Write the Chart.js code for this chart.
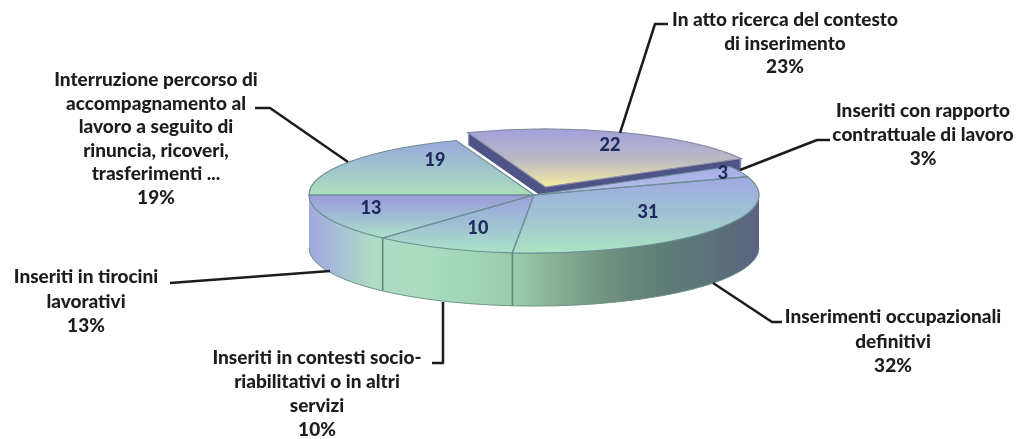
<!DOCTYPE html>
<html lang="it">
<head>
    <meta charset="UTF-8">
    <title>Esiti dei percorsi di inserimento</title>
    <script src="https://cdn.jsdelivr.net/npm/chart.js"></script>
    <style>
        html, body { margin: 0; padding: 0; background: #fff; }
        canvas { display: block; }
    </style>
</head>
<body>
    <canvas id="pieChart" width="1020" height="439"></canvas>

    <script>
        // data (clockwise from the left edge of the pie)
        const categories = [
            "Interruzione percorso di accompagnamento al lavoro a seguito di rinuncia, ricoveri, trasferimenti ...",
            "In atto ricerca del contesto di inserimento",
            "Inseriti con rapporto contrattuale di lavoro",
            "Inserimenti occupazionali definitivi",
            "Inseriti in contesti socio-riabilitativi o in altri servizi",
            "Inseriti in tirocini lavorativi"
        ];
        const sliceValues = [19, 22, 3, 31, 10, 13];
        const percentLabels = ["19%", "23%", "3%", "32%", "10%", "13%"];

        // label line breaks as printed
        const labelLines = [
            ["Interruzione percorso di", "accompagnamento al", "lavoro a seguito di", "rinuncia, ricoveri,", "trasferimenti ..."],
            ["In atto ricerca del contesto", "di inserimento"],
            ["Inseriti con rapporto", "contrattuale di lavoro"],
            ["Inserimenti occupazionali", "definitivi"],
            ["Inseriti in contesti socio-", "riabilitativi o in altri", "servizi"],
            ["Inseriti in tirocini", "lavorativi"]
        ];

        // layout
        const SQUASH = 0.258;
        const DEPTH = 53;
        const LIFTED_DEPTH = 12;
        const LIFTED = 1;
        const valuePos = [[435, 160], [610, 145], [723, 173], [648, 212], [478, 228], [371, 208]];
        const labelPos = [
            { x: 156, y: 86, step: 23.6 },
            { x: 785, y: 26, step: 23.5 },
            { x: 923, y: 117, step: 24 },
            { x: 893, y: 323, step: 24.5 },
            { x: 317, y: 364, step: 24 },
            { x: 86, y: 283, step: 24.5 }
        ];
        const leaders = [
            [[255, 108], [270, 108], [348, 162]],
            [[668, 24], [655, 24], [620, 133]],
            [[830, 140], [817, 140], [740, 170]],
            [[782, 322], [772, 322], [713, 283]],
            [[432, 363], [443, 363], [443, 302]],
            [[170, 283], [330, 271]]
        ];

        // top face colours: top of slice, middle, bottom of slice
        const faceColors = [
            ["#9aa8dc", "#a0c4cc", "#acdfbc"],
            ["#a5a3d9", "#bcb9c4", "#f5eda0"],
            ["#a6ade6", "#aeb6e8", "#b8c2ea"],
            ["#a0a9e2", "#9fc2d2", "#abe3c4"],
            ["#9aa0de", "#9fc0d4", "#a9e2c6"],
            ["#9d9adb", "#a0bcd4", "#acE2c8"]
        ];
        const wallStops = [
            [0, "#9fa8de"], [0.06, "#a6bcd8"], [0.14, "#aedcc4"], [0.27, "#a8dcc0"],
            [0.46, "#98ccac"], [0.52, "#8cb89c"], [0.67, "#6f8f7e"], [0.78, "#5f7e78"],
            [0.9, "#5a7278"], [1, "#5a6280"]
        ];

        function pointOn(arc, angle) {
            return arc.y + arc.outerRadius * Math.sin(angle);
        }

        function faceGradient(ctx, arc, i) {
            let top = Math.min(arc.y, pointOn(arc, arc.startAngle), pointOn(arc, arc.endAngle));
            let bottom = Math.max(arc.y, pointOn(arc, arc.startAngle), pointOn(arc, arc.endAngle));
            if (arc.startAngle < -Math.PI / 2 && arc.endAngle > -Math.PI / 2) top = arc.y - arc.outerRadius;
            if (arc.startAngle < Math.PI / 2 && arc.endAngle > Math.PI / 2) bottom = arc.y + arc.outerRadius;
            const g = ctx.createLinearGradient(0, top, 0, bottom);
            g.addColorStop(0, faceColors[i][0]);
            g.addColorStop(0.5, faceColors[i][1]);
            g.addColorStop(1, faceColors[i][2]);
            return g;
        }

        // draw the library's arc element squashed into an ellipse
        function drawSquashed(ctx, arc, fill, dy) {
            const saved = arc.options;
            ctx.save();
            ctx.translate(0, arc.y + dy);
            ctx.scale(1, SQUASH);
            ctx.translate(0, -arc.y);
            arc.options = {
                backgroundColor: fill, borderColor: "transparent", borderWidth: 0,
                offset: saved.offset, spacing: 0, borderAlign: "center", circular: true,
                borderRadius: 0, borderJoinStyle: "round", borderDash: [], borderDashOffset: 0
            };
            arc.draw(ctx);
            arc.options = saved;
            ctx.restore();
        }

        function outlineSlice(ctx, arc, color) {
            const mid = (arc.startAngle + arc.endAngle) / 2;
            const off = (arc.options.offset || 0) / 4;
            const x = arc.x + Math.cos(mid) * off;
            const y = arc.y + Math.sin(mid) * off * SQUASH;
            ctx.beginPath();
            ctx.moveTo(x, y);
            ctx.ellipse(x, y, arc.outerRadius, arc.outerRadius * SQUASH, 0, arc.startAngle, arc.endAngle);
            ctx.closePath();
            ctx.strokeStyle = color;
            ctx.lineWidth = 1.2;
            ctx.stroke();
        }

        const pie3d = {
            id: "pie3d",
            beforeDatasetDraw(chart) {
                const ctx = chart.ctx;
                const arcs = chart.getDatasetMeta(0).data;
                const first = arcs[0];
                const wall = ctx.createLinearGradient(first.x - first.outerRadius, 0, first.x + first.outerRadius, 0);
                wallStops.forEach(s => wall.addColorStop(s[0], s[1]));

                // wall of the pulled-out slice, mostly hidden by the rest
                for (let d = LIFTED_DEPTH; d >= 1; d--) {
                    drawSquashed(ctx, arcs[LIFTED], "#4f5488", d);
                }
                for (let d = DEPTH; d >= 1; d--) {
                    arcs.forEach((arc, i) => {
                        if (i !== LIFTED) drawSquashed(ctx, arc, wall, d);
                    });
                }

                // bottom rim and the cuts on the wall
                ctx.beginPath();
                ctx.ellipse(first.x, first.y + DEPTH, first.outerRadius, first.outerRadius * SQUASH, 0, 0, Math.PI);
                ctx.strokeStyle = "#6f9484";
                ctx.lineWidth = 1;
                ctx.stroke();

                arcs.forEach((arc, i) => {
                    if (i !== LIFTED) {
                        drawSquashed(ctx, arc, faceGradient(ctx, arc, i), 0);
                    }
                });
                arcs.forEach((arc, i) => {
                    if (i !== LIFTED) outlineSlice(ctx, arc, "#6d8f96");
                });
                arcs.forEach(arc => {
                    if (Math.sin(arc.startAngle) > 0.01) {
                        const x = arc.x + arc.outerRadius * Math.cos(arc.startAngle);
                        const y = arc.y + arc.outerRadius * SQUASH * Math.sin(arc.startAngle);
                        ctx.beginPath();
                        ctx.moveTo(x, y);
                        ctx.lineTo(x, y + DEPTH);
                        ctx.strokeStyle = "#5f8c76";
                        ctx.lineWidth = 1.6;
                        ctx.stroke();
                    }
                });

                drawSquashed(ctx, arcs[LIFTED], faceGradient(ctx, arcs[LIFTED], LIFTED), 0);
                outlineSlice(ctx, arcs[LIFTED], "#8b90a8");
                return false;
            },
            afterDraw(chart) {
                const ctx = chart.ctx;
                ctx.save();

                // leaders
                ctx.strokeStyle = "#1c1c1c";
                ctx.lineWidth = 2.5;
                ctx.lineJoin = "round";
                leaders.forEach(points => {
                    ctx.beginPath();
                    points.forEach((p, i) => i ? ctx.lineTo(p[0], p[1]) : ctx.moveTo(p[0], p[1]));
                    ctx.stroke();
                });

                // callout text
                ctx.textAlign = "center";
                ctx.textBaseline = "alphabetic";
                ctx.fillStyle = "#1d1d1f";
                ctx.font = "900 19px Lato";
                labelLines.forEach((lines, i) => {
                    const pos = labelPos[i];
                    lines.concat(percentLabels[i]).forEach((line, n) => {
                        ctx.fillText(line, pos.x, pos.y + n * pos.step);
                    });
                });

                // numbers on the slices
                ctx.textBaseline = "middle";
                ctx.fillStyle = "#1f2a5c";
                ctx.font = "900 18px Lato";
                sliceValues.forEach((v, i) => {
                    ctx.fillText(String(v), valuePos[i][0], valuePos[i][1]);
                });
                ctx.restore();
            }
        };

        new Chart(document.getElementById("pieChart"), {
            type: "pie",
            data: {
                labels: categories,
                datasets: [{
                    data: sliceValues,
                    backgroundColor: "#a0a9e2",
                    borderWidth: 0,
                    offset: sliceValues.map((v, i) => i === LIFTED ? 132 : 0)
                }]
            },
            options: {
                responsive: false,
                animation: false,
                rotation: 270,
                radius: 225,
                layout: { padding: { left: 48, bottom: 49 } },
                plugins: { legend: { display: false }, tooltip: { enabled: false } }
            },
            plugins: [pie3d]
        });
    </script>
</body>
</html>
